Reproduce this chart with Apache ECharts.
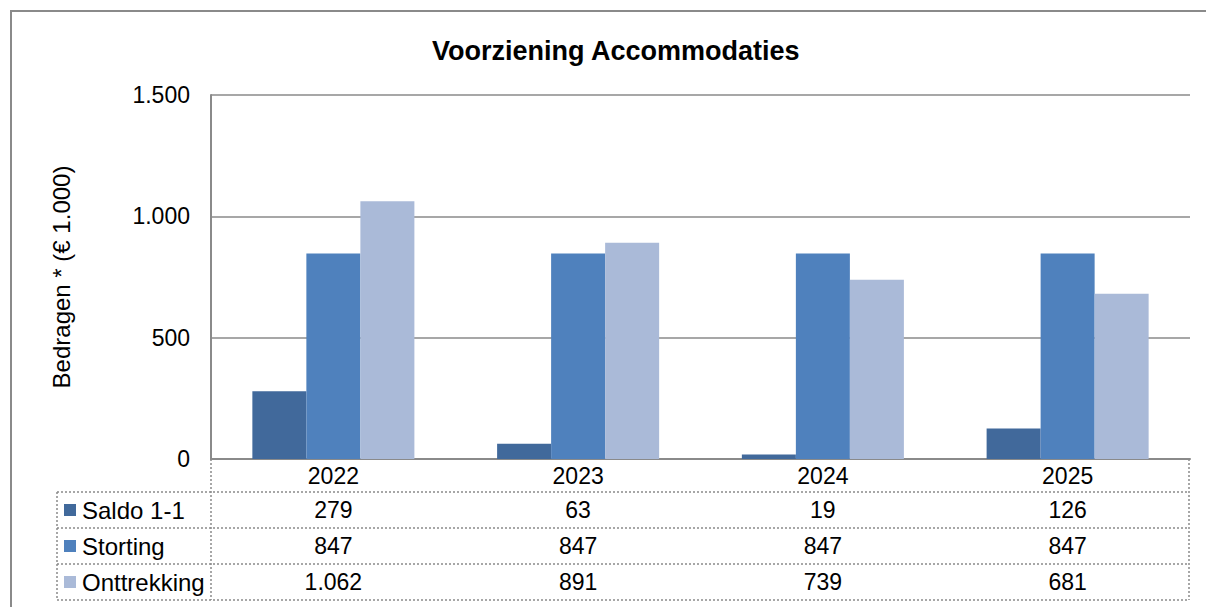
<!DOCTYPE html>
<html>
<head>
<meta charset="utf-8">
<script src="https://cdn.jsdelivr.net/npm/echarts@6/dist/echarts.min.js"></script>
<style>
  html, body { margin: 0; padding: 0; background: #fff; }
  #chart { width: 1206px; height: 607px; }
</style>
</head>
<body>
<div id="chart"></div>
<script>
// gegevens
const years = ['2022', '2023', '2024', '2025'];
const seriesNames = ['Saldo 1-1', 'Storting', 'Onttrekking'];
const saldo = [279, 63, 19, 126];
const storting = [847, 847, 847, 847];
const onttrekking = [1062, 891, 739, 681];
const yTicks = [0, 500, 1000, 1500];
const colors = ['#41699B', '#4F81BD', '#AABAD8'];

const FONT = 'Liberation Sans, Arial, sans-serif';

// getal met punt als duizendtal-scheiding
function fmt(v) {
    return String(v).replace(/\B(?=(\d{3})+(?!\d))/g, '.');
}

const chart = echarts.init(document.getElementById('chart'), null, { renderer: 'svg' });

const values = [saldo, storting, onttrekking];

chart.setOption({
    animation: false,
    textStyle: { fontFamily: FONT },
    title: {
        text: 'Voorziening Accommodaties',
        left: 427,
        top: 32,
        textStyle: { fontSize: 27, fontWeight: 'bold', color: '#000', fontFamily: FONT }
    },
    grid: { left: 211, right: 16, top: 95, bottom: 148 },
    xAxis: {
        type: 'category',
        data: years,
        axisLine: { show: true, lineStyle: { color: '#8A8A8A', width: 2 } },
        axisTick: { show: false },
        axisLabel: { color: '#000', fontSize: 23, margin: 5, fontFamily: FONT }
    },
    yAxis: {
        type: 'value',
        min: yTicks[0],
        max: yTicks[yTicks.length - 1],
        interval: 500,
        name: 'Bedragen * (€ 1.000)',
        nameLocation: 'middle',
        nameGap: 138,
        nameTextStyle: { color: '#000', fontSize: 24, fontFamily: FONT },
        axisLine: { show: true, lineStyle: { color: '#8A8A8A', width: 2 } },
        axisTick: { show: false },
        axisLabel: { color: '#000', fontSize: 23, margin: 21, formatter: fmt, fontFamily: FONT },
        splitLine: { lineStyle: { color: '#8A8A8A', width: 1.5 } }
    },
    series: seriesNames.map(function (name, i) {
        return {
            name: name,
            type: 'bar',
            data: values[i],
            barGap: '0%',
            barCategoryGap: '33.8%',
            itemStyle: { color: colors[i] }
        };
    })
});

// tabel onder de grafiek
function buildTable() {
    const dot = { stroke: '#8A8A8A', lineWidth: 1.5, lineDash: [2, 2] };
    const xLeft = 57, xDiv = 211, xRight = 1189;
    const yAxisLine = 459;
    const rowTops = [492, 528, 564, 600];
    const els = [];

    rowTops.forEach(function (y) {
        els.push({ type: 'line', shape: { x1: xLeft, y1: y, x2: xRight, y2: y }, style: dot, silent: true });
    });
    els.push({ type: 'line', shape: { x1: xLeft, y1: rowTops[0], x2: xLeft, y2: rowTops[3] }, style: dot });
    els.push({ type: 'line', shape: { x1: xDiv, y1: yAxisLine, x2: xDiv, y2: rowTops[3] }, style: dot });
    els.push({ type: 'line', shape: { x1: xRight, y1: yAxisLine, x2: xRight, y2: rowTops[3] }, style: dot });

    seriesNames.forEach(function (name, i) {
        const cy = (rowTops[i] + rowTops[i + 1]) / 2;
        els.push({ type: 'rect', shape: { x: 64, y: cy - 6, width: 12, height: 12 }, style: { fill: colors[i] } });
        els.push({
            type: 'text', x: 82, y: cy,
            style: { text: name, fill: '#000', font: '24px ' + FONT, textVerticalAlign: 'middle', textAlign: 'left' }
        });
        years.forEach(function (yr, j) {
            const cx = chart.convertToPixel({ xAxisIndex: 0 }, yr);
            els.push({
                type: 'text', x: cx, y: cy,
                style: { text: fmt(values[i][j]), fill: '#000', font: '23px ' + FONT, textVerticalAlign: 'middle', textAlign: 'center' }
            });
        });
    });

    // buitenrand
    els.push({ type: 'rect', shape: { x: 11, y: 11, width: 1210, height: 610 }, style: { fill: 'none', stroke: '#8A8A8A', lineWidth: 2 } });

    chart.setOption({ graphic: els });
}

buildTable();
</script>
</body>
</html>
